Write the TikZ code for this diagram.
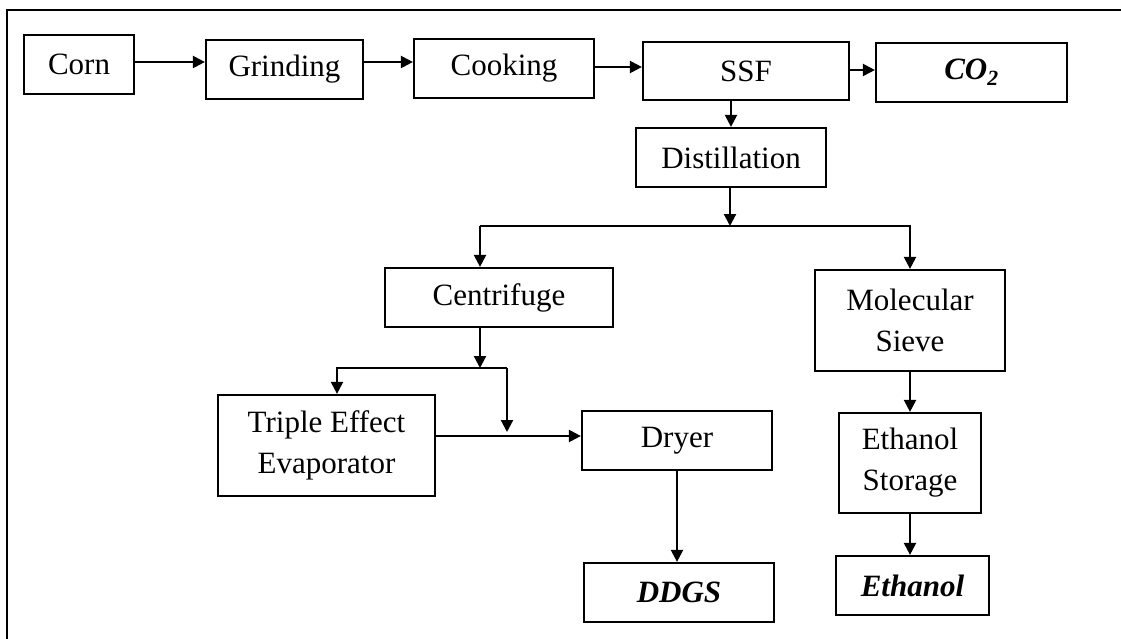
\documentclass[tikz,border=0pt]{standalone}
\usepackage{fontspec}
\setmainfont{Liberation Serif}
\usetikzlibrary{arrows.meta}
\begin{document}
\begin{tikzpicture}[x=1pt,y=-1pt,
  box/.style={draw,line width=2.2pt,inner sep=0pt,align=center,
    font=\fontsize{31}{41}\selectfont},
  arr/.style={line width=2.2pt,-{Triangle[length=12pt,width=12pt]}},
  ln/.style={line width=2.4pt}]
\useasboundingbox (0,0) rectangle (1121,639);
\draw[ln] (7,639) -- (7,10) -- (1121,10);
\node[box,minimum width=110pt,minimum height=59pt] (corn) at (79,64.5) {Corn};
\node[box,minimum width=157pt,minimum height=59pt] (grind) at (284.5,69.5) {Grinding};
\node[box,minimum width=180pt,minimum height=59pt] (cook) at (504,68.5) {Cooking};
\node[box,minimum width=206pt,minimum height=58pt] (ssf) at (746,71) {SSF};
\node[box,minimum width=191pt,minimum height=59pt] (co2) at (971.5,72.5) {\textbf{\textit{CO\textsubscript{2}}}};
\node[box,minimum width=190pt,minimum height=59pt] (dist) at (731,157.5) {Distillation};
\node[box,minimum width=228pt,minimum height=59pt] (cent) at (499,297.5) {Centrifuge};
\node[box,minimum width=190pt,minimum height=101pt] (mol) at (910,320.5) {Molecular\\Sieve};
\node[box,minimum width=217pt,minimum height=101pt] (tee) at (326.5,445.5) {Triple Effect\\Evaporator};
\node[box,minimum width=190pt,minimum height=59pt] (dryer) at (677,440.5) {Dryer};
\node[box,minimum width=190pt,minimum height=59pt] (ddgs) at (679,592.5) {\textbf{\textit{DDGS}}};
\node[box,minimum width=142pt,minimum height=100pt] (stor) at (910,463) {Ethanol\\Storage};
\node[box,minimum width=153pt,minimum height=59pt] (eth) at (912.5,585.5) {\textbf{\textit{Ethanol}}};
% top row
\draw[arr] ([yshift=2.5pt]corn.east) -- ([yshift=2.5pt]corn.east -| grind.west);
\draw[arr] ([yshift=7.5pt]grind.east) -- ([yshift=7.5pt]grind.east -| cook.west);
\draw[arr] ([yshift=1.5pt]cook.east) -- ([yshift=1.5pt]cook.east -| ssf.west);
\draw[arr] ([yshift=1pt]ssf.east) -- ([yshift=1pt]ssf.east -| co2.west);
\draw[arr] (dist.north |- ssf.south) -- (dist.north);
% distillation split
\coordinate (j) at (730,226);
\coordinate (jl) at (480,226);
\draw[arr] (dist.south -| j) -- (j);
\draw[arr] (jl) -| (mol.north);
\draw[arr] (jl) -- (jl |- cent.north);
% centrifuge split
\coordinate (k) at (480,368);
\coordinate (kl) at (337,368);
\coordinate (kr) at (507,368);
\coordinate (m) at ([yshift=9.5pt]tee.east);
\draw[arr] (k |- cent.south) -- (k);
\draw[arr] (kr) -- (kl) -- (kl |- tee.north);
\draw[arr] (kr) -- ([yshift=4pt]kr |- m);
\draw[arr] (m) -- (m -| dryer.west);
% outputs
\draw[arr] (dryer.south) -- (dryer.south |- ddgs.north);
\draw[arr] (mol.south) -- (mol.south |- stor.north);
\draw[arr] (stor.south) -- (stor.south |- eth.north);
\end{tikzpicture}
\end{document}
